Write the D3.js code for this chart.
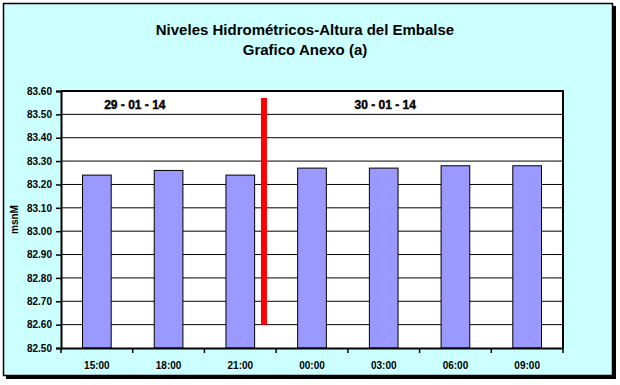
<!DOCTYPE html>
<html>
<head>
<meta charset="utf-8">
<script src="https://cdn.jsdelivr.net/npm/d3@7"></script>
<style>
  body { margin: 0; background: #fff; }
  svg { display: block; font-family: 'Liberation Sans', Arial, sans-serif; }
</style>
</head>
<body>
<svg id="chart"></svg>
<script>
const hours = ['15:00', '18:00', '21:00', '00:00', '03:00', '06:00', '09:00']
const levels = [83.24, 83.26, 83.24, 83.27, 83.27, 83.28, 83.28]
const yTicks = [82.5, 82.6, 82.7, 82.8, 82.9, 83.0, 83.1, 83.2, 83.3, 83.4, 83.5, 83.6]
const dayLabels = ['29 - 01 - 14', '30 - 01 - 14']
const dayLabelAt = [1.03, 4.52] // in category units
const dividerAt = [2.83]
const dividerRange = [82.6, 83.57]
const titleLines = ['Niveles Hidrométricos-Altura del Embalse', 'Grafico Anexo (a)']

const dimension = { width: 620, height: 385 }
const margin = { top: 91, right: 57, bottom: 37, left: 61 }

const width = dimension.width - margin.left - margin.right
const height = dimension.height - margin.top - margin.bottom

const svgElement = d3.select('#chart')
  .attr('width', dimension.width)
  .attr('height', dimension.height)

// frame with drop shadow
svgElement.append('rect')
  .attr('x', 6).attr('y', 6).attr('width', 610).attr('height', 373)
  .attr('fill', '#000')
svgElement.append('rect')
  .attr('x', 3.5).attr('y', 3.5).attr('width', 609).attr('height', 372)
  .attr('fill', '#ccffff')
  .attr('stroke', '#000')
  .attr('stroke-width', 1.5)

svgElement.selectAll('.title')
  .data(titleLines)
  .enter()
  .append('text')
  .attr('class', 'title')
  .attr('x', 305)
  .attr('y', (d, i) => 35 + i * 20)
  .attr('text-anchor', 'middle')
  .attr('font-size', 15)
  .attr('font-weight', 'bold')
  .text((d) => d)

const xScale = d3.scaleBand()
  .domain(hours)
  .range([0, width])
  .paddingInner(0.6)
  .paddingOuter(0.3)

const xIdx = d3.scaleLinear().domain([0, hours.length]).range([0, width])

const yScale = d3.scaleLinear().domain([82.5, 83.6]).range([height, 0])

const svg = svgElement.append('g')
  .attr('transform', `translate(${margin.left}, ${margin.top})`)

svg.append('rect')
  .attr('width', width).attr('height', height)
  .attr('fill', '#fff')

// gridlines
svg.selectAll('.grid')
  .data(yTicks.slice(1, -1))
  .enter()
  .append('line')
  .attr('x1', 0).attr('x2', width)
  .attr('y1', (d) => yScale(d)).attr('y2', (d) => yScale(d))
  .attr('stroke', '#000')
  .attr('stroke-width', 1)

svg.selectAll('.bar')
  .data(levels)
  .enter()
  .append('rect')
  .attr('x', (d, i) => xScale(hours[i]))
  .attr('y', (d) => yScale(d))
  .attr('width', xScale.bandwidth())
  .attr('height', (d) => height - yScale(d))
  .attr('fill', '#9999ff')
  .attr('stroke', '#000')
  .attr('stroke-width', 1)

svg.selectAll('.divider')
  .data(dividerAt)
  .enter()
  .append('line')
  .attr('x1', (d) => xIdx(d)).attr('x2', (d) => xIdx(d))
  .attr('y1', yScale(dividerRange[1])).attr('y2', yScale(dividerRange[0]))
  .attr('stroke', '#ff0000')
  .attr('stroke-width', 6)

svg.selectAll('.day')
  .data(dayLabels)
  .enter()
  .append('text')
  .attr('x', (d, i) => xIdx(dayLabelAt[i]))
  .attr('y', 18)
  .attr('text-anchor', 'middle')
  .attr('font-size', 12)
  .attr('font-weight', 'bold')
  .attr('stroke', '#000')
  .attr('stroke-width', 0.4)
  .text((d) => d)

// plot border (top / right)
svg.append('path')
  .attr('d', `M0,0H${width}V${height}`)
  .attr('fill', 'none')
  .attr('stroke', '#000')
  .attr('stroke-width', 2)

const yAxis = svg.append('g')
  .call(d3.axisLeft(yScale).tickValues(yTicks).tickFormat(d3.format('.2f')).tickSize(5).tickPadding(4))
yAxis.select('.domain').attr('stroke-width', 2)
yAxis.selectAll('.tick line').attr('stroke-width', 1.5)
yAxis.selectAll('.tick text').attr('font-size', 10).attr('font-weight', 'bold')
  .attr('font-family', "'Liberation Sans', Arial, sans-serif").attr('fill', '#000')

const xAxis = svg.append('g')
  .attr('transform', `translate(0, ${height})`)
  .call(d3.axisBottom(xScale).tickSize(0).tickPadding(14))
xAxis.select('.domain').attr('stroke-width', 2)
xAxis.selectAll('.tick text').attr('font-size', 10).attr('font-weight', 'bold')
  .attr('font-family', "'Liberation Sans', Arial, sans-serif").attr('fill', '#000')

// category boundary ticks
svg.selectAll('.xtick')
  .data(d3.range(hours.length + 1))
  .enter()
  .append('line')
  .attr('x1', (d) => xIdx(d)).attr('x2', (d) => xIdx(d))
  .attr('y1', height).attr('y2', height + 5)
  .attr('stroke', '#000')
  .attr('stroke-width', 1.5)

svgElement.append('text')
  .attr('transform', `translate(18, ${margin.top + height / 2}) rotate(-90)`)
  .attr('text-anchor', 'middle')
  .attr('font-size', 10)
  .attr('font-weight', 'bold')
  .text('msnM')
</script>
</body>
</html>
